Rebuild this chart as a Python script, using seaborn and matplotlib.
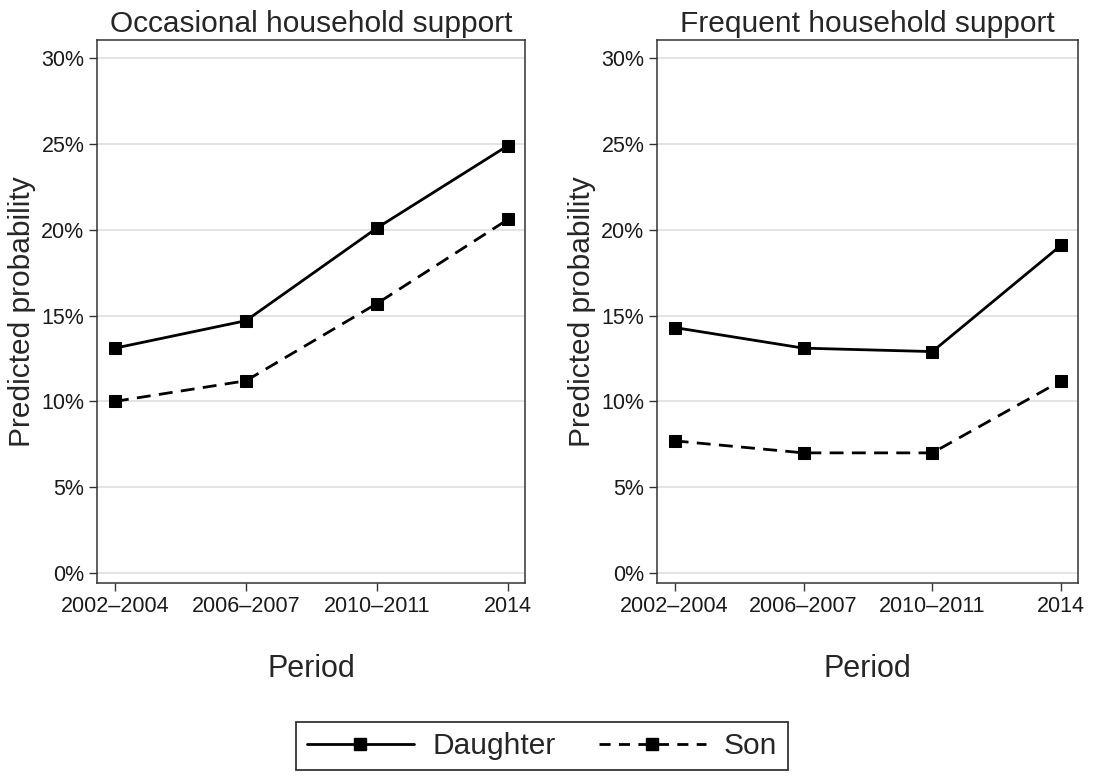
import matplotlib
matplotlib.use("Agg")
import matplotlib.pyplot as plt
import seaborn as sns
import pandas as pd
from matplotlib.lines import Line2D
from matplotlib.ticker import FuncFormatter

periods = ["2002–2004", "2006–2007", "2010–2011", "2014"]
occ_daughter = [13.1, 14.7, 20.1, 24.9]
occ_son = [10.0, 11.2, 15.7, 20.6]
freq_daughter = [14.3, 13.1, 12.9, 19.1]
freq_son = [7.7, 7.0, 7.0, 11.2]
panel_titles = ["Occasional household support", "Frequent household support"]
groups = ["Daughter", "Son"]

sns.set_theme(style="white")
plt.rcParams["font.family"] = ["Liberation Sans", "DejaVu Sans"]

fig = plt.figure(figsize=(10.97, 7.76), dpi=100)
axes = [fig.add_axes([97/1097, 1-583/776, 428/1097, 543/776]),
        fig.add_axes([657/1097, 1-583/776, 421/1097, 543/776])]

data_sets = [(occ_daughter, occ_son), (freq_daughter, freq_son)]
for ax, (d, s), title in zip(axes, data_sets, panel_titles):
    df = pd.DataFrame({
        "x": list(range(len(periods))) * 2,
        "y": d + s,
        "g": [groups[0]] * len(d) + [groups[1]] * len(s),
    })
    for yv in [0, 5, 10, 15, 20, 25, 30]:
        ax.axhline(yv, color="#dcdcdc", lw=1.1, zorder=0)
    sns.lineplot(data=df, x="x", y="y", style="g", ax=ax, color="black",
                 markers={"Daughter": "s", "Son": "s"},
                 dashes={"Daughter": "", "Son": (5, 3)},
                 markersize=8.5, linewidth=2.0, markeredgecolor="black",
                 legend=False, sort=False, zorder=3)
    ax.set_xlim(-0.137, 3.13)
    ax.set_ylim(-0.58, 31.05)
    ax.set_xticks(range(len(periods)))
    ax.set_xticklabels(periods)
    ax.set_yticks([0, 5, 10, 15, 20, 25, 30])
    ax.yaxis.set_major_formatter(FuncFormatter(lambda v, p: f"{int(v)}%"))
    ax.tick_params(axis="both", which="major", direction="out", length=6,
                   width=1, color="#333333", labelsize=15.5, left=True, bottom=True,
                   pad=3, labelcolor="#1a1a1a")
    ax.set_xlabel("Period", fontsize=22, labelpad=27)
    ax.set_ylabel("Predicted probability", fontsize=21.5, labelpad=4)
    ax.set_title(title, fontsize=21.5, pad=6)
    for sp in ax.spines.values():
        sp.set_color("#333333")
        sp.set_linewidth(1.1)
        sp.set_visible(True)

handles = [Line2D([0], [0], color="black", lw=2.0, marker="s", markersize=8.5, linestyle="-"),
           Line2D([0], [0], color="black", lw=2.0, marker="s", markersize=8.5, linestyle=(0, (4, 3)))]
leg = fig.legend(handles, groups, loc="center", bbox_to_anchor=(542/1097, 1-746/776),
                 ncol=2, fontsize=21.5, frameon=True, fancybox=False, edgecolor="black",
                 handlelength=3.6, columnspacing=1.45, borderpad=0.35, handletextpad=0.6)
leg.get_frame().set_linewidth(1.3)

fig.savefig("out.png", dpi=100, facecolor="white")
